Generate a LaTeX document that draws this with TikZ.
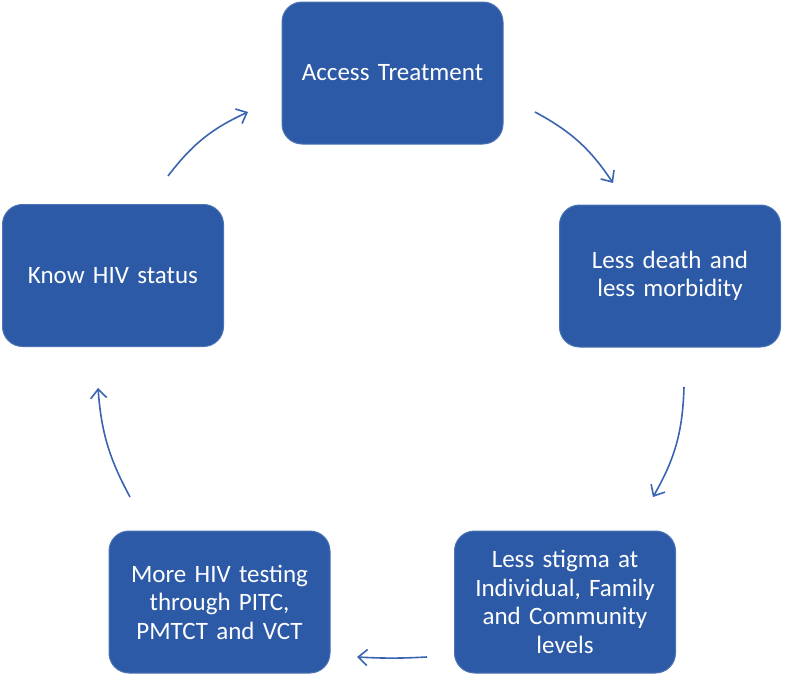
\documentclass[tikz,border=0pt]{standalone}
\usepackage{fontspec}
\setmainfont{Carlito}
\usetikzlibrary{arrows.meta}
\definecolor{boxblue}{RGB}{45,90,166}
\definecolor{arrowblue}{RGB}{58,100,176}
\tikzset{
  stagebox/.style={draw=boxblue!85!white, line width=1pt, fill=boxblue, rounded corners=20pt,
    minimum width=221pt, minimum height=142pt, inner sep=4pt,
    text=white, align=center, font=\fontsize{25}{28.5}\selectfont, text width=205pt},
  cyclearrow/.style={draw=arrowblue, line width=1.6pt,
    -{Straight Barb[length=9pt,width=16pt,line width=1.6pt]}}
}
\begin{document}
\begin{tikzpicture}[x=1pt,y=-1pt]
\useasboundingbox (0,0) rectangle (785,678);
\node[stagebox] (treat) at (392.5,73) {Access Treatment};
\node[stagebox] (death) at (670,276) {Less death and\\less morbidity};
\node[stagebox] (stigma) at (565,602) {Less stigma at\\Individual, Family\\and Community\\levels};
\node[stagebox] (testing) at (219.5,602) {More HIV testing\\through PITC,\\PMTCT and VCT};
\node[stagebox] (know) at (113,275.5) {Know HIV status};
\coordinate (a1s) at (168,176);
\coordinate (a1e) at (248,112);
\coordinate (a2s) at (535,112);
\coordinate (a2e) at (613,183);
\coordinate (a3s) at (684,387);
\coordinate (a3e) at (653,497);
\coordinate (a4s) at (427,657);
\coordinate (a4e) at (357,657);
\coordinate (a5s) at (130,497);
\coordinate (a5e) at (98,388);
\draw[cyclearrow] (a1s) to[bend left=14] (a1e);
\draw[cyclearrow] (a2s) to[bend left=14] (a2e);
\draw[cyclearrow] (a3s) to[bend left=14] (a3e);
\draw[cyclearrow] (a4s) to[bend left=3] (a4e);
\draw[cyclearrow] (a5s) to[bend left=12] (a5e);
\end{tikzpicture}
\end{document}
